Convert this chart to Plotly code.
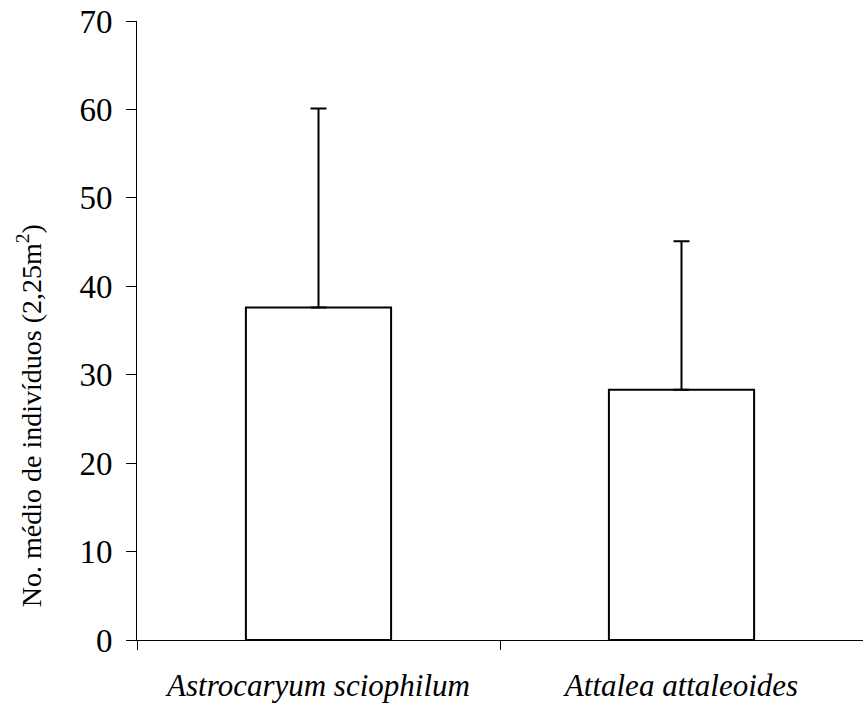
import plotly.graph_objects as go

categories = ["<i>Astrocaryum sciophilum</i>", "<i>Attalea attaleoides</i>"]
means = [37.6, 28.3]
errors_plus = [22.5, 16.8]
y_ticks = [0, 10, 20, 30, 40, 50, 60, 70]
y_title = "No. médio de indivíduos (2,25m<sup>2</sup>)"

fig = go.Figure()
fig.add_trace(go.Bar(
    x=categories,
    y=means,
    width=0.4,
    marker=dict(color="white", line=dict(color="black", width=2)),
    error_y=dict(type="data", array=errors_plus, symmetric=False,
                 arrayminus=[0, 0], color="black", thickness=2, width=8),
    showlegend=False,
))

fig.update_layout(
    width=863, height=706,
    margin=dict(l=137, r=0, t=21, b=66),
    paper_bgcolor="white", plot_bgcolor="white",
    font=dict(family="Liberation Serif, Times New Roman, serif", color="black"),
)
fig.update_xaxes(
    showline=True, linecolor="black", linewidth=1,
    ticks="outside", tickson="boundaries", ticklen=9, tickcolor="black",
    ticklabelstandoff=18, automargin=False,
    tickfont=dict(size=31, family="Liberation Serif, serif"),
    showgrid=False, zeroline=False,
)
fig.update_yaxes(
    range=[0, 70], tickvals=y_ticks,
    showline=True, linecolor="black", linewidth=1,
    ticks="outside", ticklen=10, tickcolor="black",
    ticklabelstandoff=7, ticklabeloverflow="allow", automargin=False,
    tickfont=dict(size=33, family="Liberation Serif, serif"),
    showgrid=False, zeroline=False,
)
fig.add_annotation(
    text=y_title, textangle=-90, showarrow=False,
    xref="paper", yref="paper", x=-0.147, y=0.362,
    xanchor="center", yanchor="middle",
    font=dict(size=28, family="Liberation Serif, serif", color="black"),
)

fig.write_html("out.html", config={"displayModeBar": False},
               post_script="document.body.style.margin='0';")
